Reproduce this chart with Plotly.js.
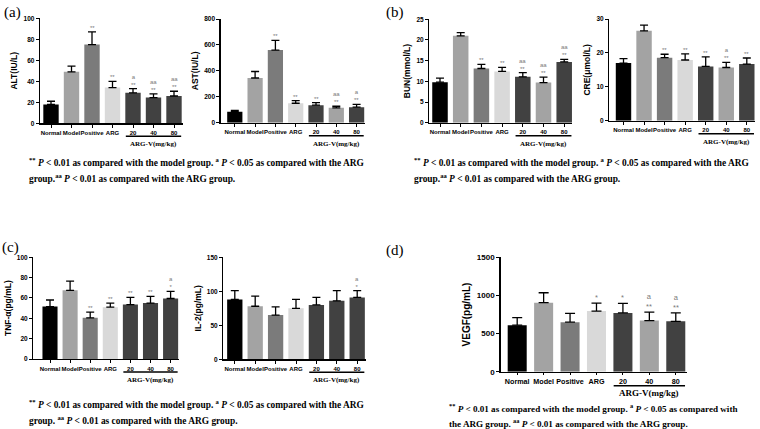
<!DOCTYPE html>
<html>
<head>
<meta charset="utf-8">
<script src="https://cdn.plot.ly/plotly-3.0.1.min.js"></script>
<style>html,body{margin:0;padding:0;background:#fff;}#chart{width:760px;height:429px;}</style>
</head>
<body>
<div id="chart"></div>
<script>
// ---------------- DATA ----------------
const categories = ['Normal', 'Model', 'Positive', 'ARG', '20', '40', '80'];

const altMean = [18, 49, 75, 34, 29, 24.5, 26];
const altErr  = [3, 5.5, 12, 6, 4, 3.5, 4.5];
const altSig  = ['', '', '**', '**', 'a<br>**', 'aa<br>**', 'aa<br>**'];

const astMean = [85, 345, 560, 150, 135, 115, 120];
const astErr  = [10, 50, 75, 20, 20, 12, 22];
const astSig  = ['', '', '**', '**', '**', 'aa<br>**', 'a<br>**'];

const bunMean = [9.8, 21, 13.1, 12.4, 11.1, 9.7, 14.7];
const bunErr  = [1, 0.8, 1, 1, 1, 1.3, 0.6];
const bunSig  = ['', '', '**', '**', 'aa<br>**', 'aa<br>**', 'aa<br>**'];

const creMean = [17, 26.5, 18.6, 17.9, 16, 15.7, 16.7];
const creErr  = [1.3, 1.7, 1, 1.8, 2.8, 1.5, 1.8];
const creSig  = ['', '', '**', '**', '**', 'a<br>**', '**'];

const tnfMean = [51.5, 67.5, 40.5, 51, 53.5, 55, 59.5];
const tnfErr  = [6.5, 9, 5.5, 4, 7, 6.5, 7];
const tnfSig  = ['', '', '**', '**', '**', '**', 'a<br>*'];

const il2Mean = [88, 78, 65, 75, 80, 86, 91];
const il2Err  = [13, 15, 12, 13, 11, 15, 10];
const il2Sig  = ['', '', '', '', '', '', 'a<br>*'];

const vegfMean = [610, 905, 650, 795, 770, 670, 660];
const vegfErr  = [100, 130, 115, 105, 125, 110, 110];
const vegfSig  = ['', '', '', '*', '*', 'a<br>**', 'a<br>**'];

const groupLabel = 'ARG-V(mg/kg)';

// ---------------- STYLE / LAYOUT CONFIG ----------------
const W = 760, H = 429;
const colorsDark40  = ['#000000', '#a3a3a3', '#7b7b7b', '#d9d9d9', '#414141', '#414141', '#414141'];
const colorsLight40 = ['#000000', '#a3a3a3', '#7b7b7b', '#d9d9d9', '#414141', '#a3a3a3', '#414141'];

const small = {tick: 6, ytick: 6.5, title: 8.5, sig: 6, group: 7, lineOff: 13, textOff: 21, ticklen: 3};
const large = {tick: 7.2, ytick: 8, title: 10, sig: 7.5, group: 9, lineOff: 14, textOff: 21, ticklen: 2};

const panels = [
  {mean: altMean, err: altErr, sig: altSig, title: 'ALT(IU/L)', ymax: 100, dtick: 20, colors: colorsDark40,
   g: {left: 40, c0: 51, step: 20.5, right: 183, top: 18.3, zero: 123.3}, bw: 0.75, f: small},
  {mean: astMean, err: astErr, sig: astSig, title: 'AST(IU/L)', ymax: 800, dtick: 200, colors: colorsLight40,
   g: {left: 220.7, c0: 234.8, step: 20.3, right: 365, top: 19, zero: 122.7}, bw: 0.75, f: small},
  {mean: bunMean, err: bunErr, sig: bunSig, title: 'BUN(mmol/L)', ymax: 25, dtick: 5, colors: colorsLight40,
   g: {left: 429.3, c0: 440, step: 20.7, right: 572, top: 19.3, zero: 122.7}, bw: 0.75, f: small},
  {mean: creMean, err: creErr, sig: creSig, title: 'CRE(μmol/L)', ymax: 30, dtick: 10, colors: colorsLight40,
   g: {left: 609.3, c0: 623.5, step: 20.55, right: 755, top: 19, zero: 120.7}, bw: 0.75, f: small},
  {mean: tnfMean, err: tnfErr, sig: tnfSig, title: 'TNF-α(pg/mL)', ymax: 100, dtick: 20, colors: colorsDark40,
   g: {left: 33.3, c0: 50, step: 20.1, right: 179, top: 257.3, zero: 359}, bw: 0.75, f: small},
  {mean: il2Mean, err: il2Err, sig: il2Sig, title: 'IL-2(pg/mL)', ymax: 150, dtick: 50, colors: colorsDark40,
   g: {left: 223.3, c0: 234.8, step: 20.4, right: 365.7, top: 257.3, zero: 359.3}, bw: 0.75, f: small},
  {mean: vegfMean, err: vegfErr, sig: vegfSig, title: 'VEGF(pg/mL)', ymax: 1500, dtick: 500, colors: colorsLight40,
   g: {left: 500.5, c0: 517.2, step: 26.43, right: 686.7, top: 257.3, zero: 371.7}, bw: 0.72, f: large}
];

const sans = 'Arial, Liberation Sans, sans-serif';
const serif = 'Liberation Serif, Times New Roman, serif';

const data = [];
const layout = {
  width: W, height: H,
  margin: {l: 0, r: 0, t: 0, b: 0},
  paper_bgcolor: '#ffffff', plot_bgcolor: 'rgba(0,0,0,0)',
  showlegend: false,
  annotations: [], shapes: []
};

panels.forEach((p, k) => {
  const n = k === 0 ? '' : String(k + 1);
  const g = p.g, f = p.f;
  data.push({
    type: 'bar',
    x: categories, y: p.mean,
    xaxis: 'x' + n, yaxis: 'y' + n,
    width: p.bw,
    marker: {color: p.colors, line: {width: 0}},
    error_y: {type: 'data', symmetric: false, array: p.err, arrayminus: p.err.map(() => 0),
              color: '#000', thickness: 1.3, width: f === large ? 5 : 4},
    hoverinfo: 'skip'
  });
  layout['xaxis' + n] = {
    type: 'category', anchor: 'y' + n,
    domain: [g.left / W, g.right / W],
    range: [(g.left - g.c0) / g.step, (g.right - g.c0) / g.step],
    showline: true, linecolor: '#000', linewidth: 1.3,
    ticks: 'outside', ticklen: f.ticklen, tickwidth: 1, tickcolor: '#000',
    tickangle: 0, showgrid: false, zeroline: false,
    tickfont: {family: sans, size: f.tick, color: '#000', weight: 'bold'}
  };
  layout['yaxis' + n] = {
    anchor: 'x' + n,
    domain: [1 - g.zero / H, 1 - g.top / H],
    range: [0, p.ymax], dtick: p.dtick, tick0: 0,
    showline: true, linecolor: '#000', linewidth: 1.3,
    ticks: 'outside', ticklen: 3, tickwidth: 1, tickcolor: '#000',
    showgrid: false, zeroline: false,
    tickfont: {family: sans, size: f.ytick, color: '#000', weight: 'bold'},
    title: {text: p.title, font: {family: sans, size: f.title, color: '#000', weight: 'bold'}, standoff: 4}
  };
  // significance marks
  p.sig.forEach((s, i) => {
    if (!s) return;
    layout.annotations.push({
      xref: 'x' + n, yref: 'y' + n, x: i, y: p.mean[i] + p.err[i],
      text: s, showarrow: false, yanchor: 'bottom', xanchor: 'center',
      yshift: -1, font: {family: sans, size: f.sig, color: '#7a7a7a'}
    });
  });
  // ARG-V group line + label
  const lineY = 1 - (g.zero + f.lineOff) / H;
  layout.shapes.push({type: 'line', xref: 'x' + n, yref: 'paper', x0: 3.65, x1: 6.35, y0: lineY, y1: lineY,
                      line: {color: '#000', width: 1.4}});
  layout.annotations.push({xref: 'x' + n, yref: 'paper', x: 5, y: 1 - (g.zero + f.textOff) / H,
                      text: '<b>' + groupLabel + '</b>', showarrow: false, xanchor: 'center', yanchor: 'middle',
                      font: {family: serif, size: f.group, color: '#000'}});
});

// panel labels
[['(a)', 2, 12], ['(b)', 384, 12], ['(c)', 0, 247], ['(d)', 384, 251]].forEach(([t, x, y]) => {
  layout.annotations.push({xref: 'paper', yref: 'paper', x: x / W, y: 1 - y / H, text: t, showarrow: false,
    xanchor: 'left', yanchor: 'middle', font: {family: serif, size: 15, color: '#000'}});
});

// captions
const cap1 = '<b><sup>**</sup> <i>P</i> &lt; 0.01 as compared with the model group. <sup>a</sup> <i>P</i> &lt; 0.05 as compared with the ARG</b>';
const cap2 = '<b>group.<sup>aa</sup> <i>P</i> &lt; 0.01 as compared with the ARG group.</b>';
const cap2c = '<b>group. <sup>aa</sup> <i>P</i> &lt; 0.01 as compared with the ARG group.</b>';
const capD1 = '<b><sup>**</sup> <i>P</i> &lt; 0.01 as compared with the model group. <sup>a</sup> <i>P</i> &lt; 0.05 as compared with</b>';
const capD2 = '<b>the ARG group. <sup>aa</sup> <i>P</i> &lt; 0.01 as compared with the ARG group.</b>';
[[cap1, 27, 162, 9.4], [cap2, 27, 178, 9.4], [cap1, 412, 162, 9.4], [cap2, 412, 178, 9.4],
 [cap1, 27, 404, 9.4], [cap2c, 27, 420, 9.4], [capD1, 447, 408, 9.1], [capD2, 447, 423, 9.1]].forEach(([t, x, y, s]) => {
  layout.annotations.push({xref: 'paper', yref: 'paper', x: x / W, y: 1 - y / H, text: t, showarrow: false,
    xanchor: 'left', yanchor: 'middle', align: 'left', font: {family: serif, size: s, color: '#000'}});
});

Plotly.newPlot('chart', data, layout, {staticPlot: true, displayModeBar: false});
</script>
</body>
</html>
